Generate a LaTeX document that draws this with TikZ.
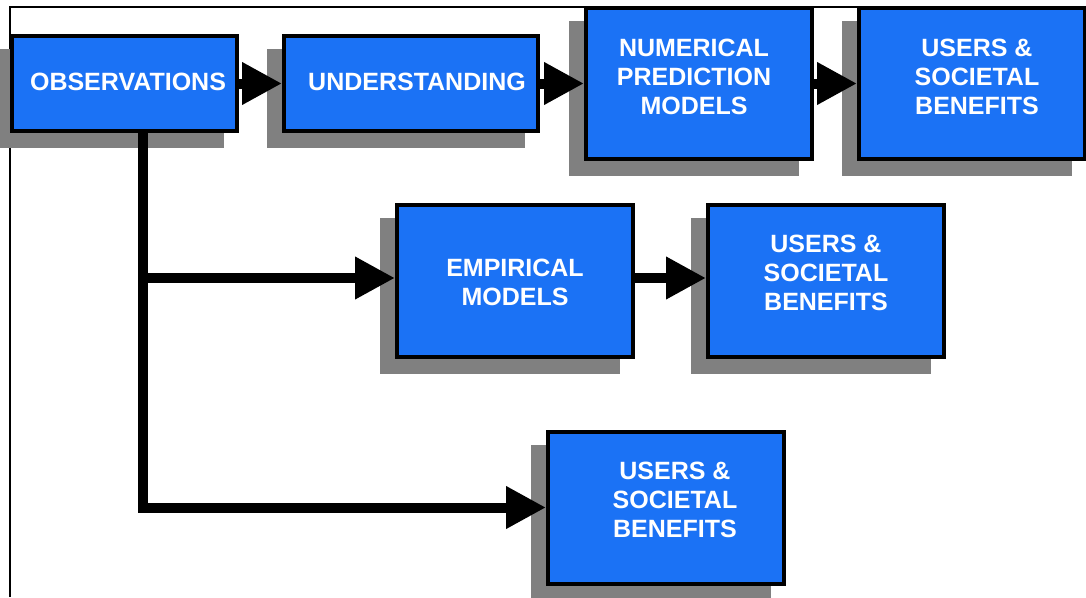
\documentclass[tikz,border=0pt]{standalone}
\usepackage{fontspec}
\setmainfont{Liberation Sans}
\usetikzlibrary{arrows.meta,backgrounds}
\definecolor{boxblue}{RGB}{27,114,245}
\definecolor{shadowgray}{RGB}{128,128,128}
\tikzset{
  box/.style={draw=black, line width=4pt, fill=boxblue, rectangle, inner sep=0pt},
  txt/.style={text=white, font=\fontsize{25pt}{29pt}\selectfont\bfseries, align=center, inner sep=0pt},
  conn/.style={line width=10pt, -{Triangle[length=40pt,width=40pt]}},
  shadowfill/.style={fill=shadowgray},
}
\newcommand{\boxshadow}[1]{\fill[shadowfill] ([shift={(-15,15)}]#1.south west) rectangle ([shift={(-15,15)}]#1.north east);}
\begin{document}
\begin{tikzpicture}[x=1pt,y=-1pt]
\useasboundingbox (0,0) rectangle (1086,597);
% boxes
\node[box, minimum width=225pt, minimum height=95pt] (obs) at (124.5,83.5) {};
\node[box, minimum width=254pt, minimum height=95pt] (und) at (411,83.5) {};
\node[box, minimum width=226pt, minimum height=151pt] (num) at (699,83.5) {};
\node[box, minimum width=226pt, minimum height=151pt] (u1) at (972,83.5) {};
\node[box, minimum width=236pt, minimum height=152pt] (emp) at (515,281) {};
\node[box, minimum width=236pt, minimum height=152pt] (u2) at (826,281) {};
\node[box, minimum width=236pt, minimum height=152pt] (u3) at (666,507.5) {};
\begin{scope}[on background layer]
\fill[white] (0,0) rectangle (1086,597);
\draw[line width=1.5pt] (10,597) -- (10,7) -- (1086,7);
\boxshadow{obs}
\boxshadow{und}
\boxshadow{num}
\boxshadow{u1}
\boxshadow{emp}
\boxshadow{u2}
\boxshadow{u3}
\end{scope}
% texts
\node[txt] (tobs) at (128,82) {OBSERVATIONS};
\node[txt] (tund) at (417,82) {UNDERSTANDING};
\node[txt] (tnum) at (694,77) {NUMERICAL\\PREDICTION\\MODELS};
\node[txt] (tu1) at (977,77) {USERS \&\\SOCIETAL\\BENEFITS};
\node[txt] (temp) at (515,282) {EMPIRICAL\\MODELS};
\node[txt] (tu2) at (826,273) {USERS \&\\SOCIETAL\\BENEFITS};
\node[txt] (tu3) at (675,500) {USERS \&\\SOCIETAL\\BENEFITS};
% connectors
\coordinate (v0) at (143,133);
\coordinate (branch) at (143,278);
\draw[conn] (obs.east) -- (und.west);
\draw[conn] (und.east) -- (und.east -| num.west);
\draw[conn] (num.east |- und.east) -- (und.east -| u1.west);
\draw[conn, line join=miter] (v0) |- (u3.west);
\draw[conn] (branch) -- (branch -| emp.west);
\draw[conn] (emp.east |- branch) -- (branch -| u2.west);
\end{tikzpicture}
\end{document}
